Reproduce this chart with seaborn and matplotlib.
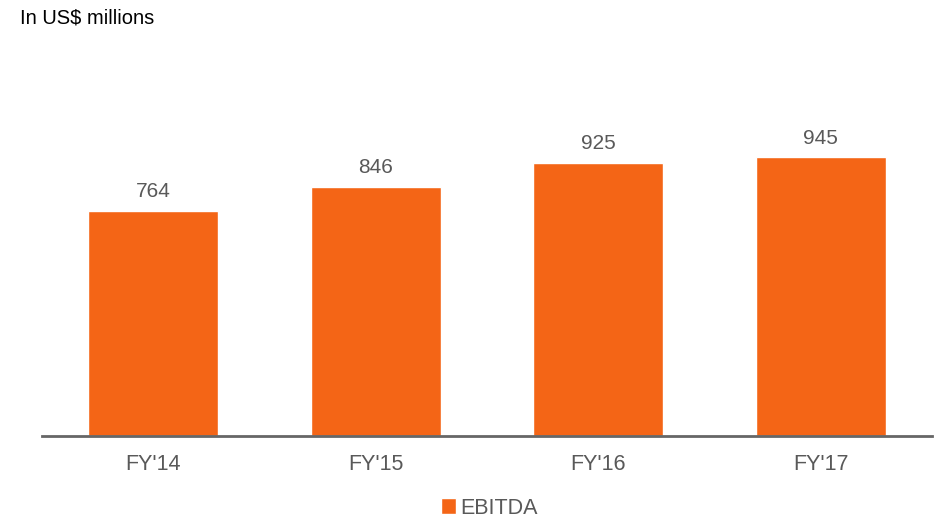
import matplotlib
matplotlib.use("Agg")
import matplotlib.pyplot as plt
import seaborn as sns

years = ["FY'14", "FY'15", "FY'16", "FY'17"]
ebitda = [764, 846, 925, 945]

orange = "#F46516"
gray_text = "#595959"

sns.set_style("white")
plt.rcParams['font.family'] = ['Liberation Sans', 'DejaVu Sans']

fig = plt.figure(figsize=(9.41, 5.18), dpi=100)
ax = fig.add_axes([42 / 941, 82 / 518, 890 / 941, 376 / 518])

sns.barplot(x=years, y=ebitda, color=orange, width=0.585, saturation=1,
            label="EBITDA", ax=ax)
ax.set_ylim(0, 1275)
ax.set_xlim(-0.5, 3.5)

ax.bar_label(ax.containers[0], labels=[str(v) for v in ebitda], padding=7,
             fontsize=15, color=gray_text)

sns.despine(ax=ax, left=True)
ax.spines['bottom'].set_color("#666666")
ax.spines['bottom'].set_linewidth(2)
ax.set_yticks([])
ax.set_xlabel("")
ax.set_ylabel("")
ax.tick_params(axis='x', length=0, pad=13, labelsize=15.5, labelcolor=gray_text)

fig.text(20 / 941, 1 - 18 / 518, "In US$ millions", fontsize=14.5,
         color="black", va="center", ha="left")

ax.legend(loc="center", bbox_to_anchor=(489 / 941, 1 - 508 / 518),
          bbox_transform=fig.transFigure, frameon=False, fontsize=15.5,
          labelcolor=gray_text, handlelength=0.7, handleheight=0.7,
          handletextpad=0.2, borderaxespad=0)

fig.savefig("out.png", dpi=100)
